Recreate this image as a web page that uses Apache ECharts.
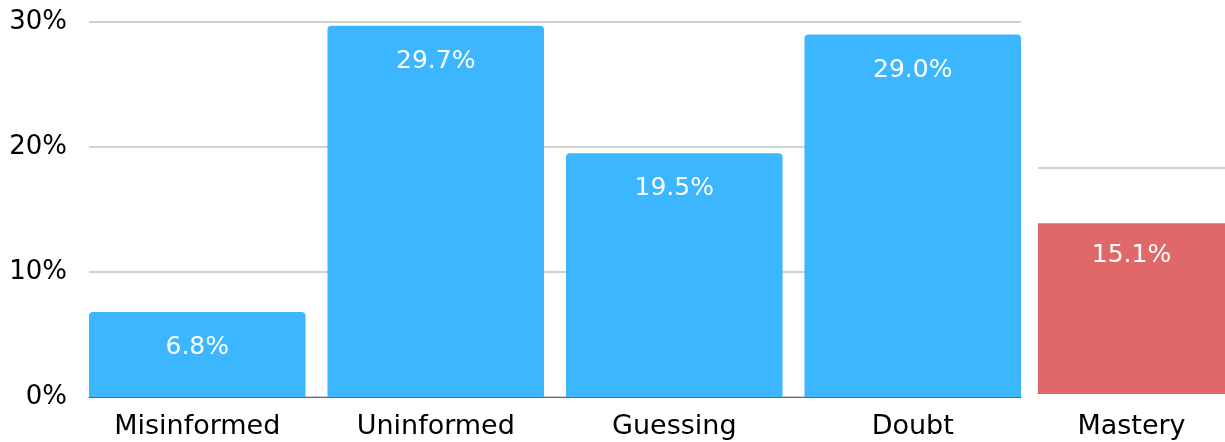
<!DOCTYPE html>
<html>
<head>
<meta charset="utf-8">
<script src="https://cdn.jsdelivr.net/npm/echarts@6/dist/echarts.min.js"></script>
<style>
  html, body { margin: 0; padding: 0; background: #fff; }
  #main { width: 1225px; height: 442px; }
</style>
</head>
<body>
<div id="main"></div>
<script>
// data
const categories = ['Misinformed', 'Uninformed', 'Guessing', 'Doubt'];
const values = [6.8, 29.7, 19.5, 29.0];
const masteryCategory = ['Mastery'];
const masteryValues = [15.1];
const yTicks = [0, 10, 20, 30];

const FONT = 'DejaVu Sans';
const pct = v => v.toFixed(1) + '%';

const chart = echarts.init(document.getElementById('main'));

chart.setOption({
  animation: false,
  textStyle: { fontFamily: FONT },
  grid: [
    // gridlines / y labels
    { left: 89, top: 22, width: 932, height: 375 },
    // bars
    { left: 78, top: 22, width: 954, height: 375 },
    // mastery panel
    { left: 1038, top: 168, width: 194, height: 225 }
  ],
  xAxis: [
    {
      gridIndex: 0, type: 'category', data: [''],
      axisLine: { show: true, lineStyle: { color: '#666', width: 1 } },
      axisTick: { show: false }, axisLabel: { show: false }
    },
    {
      gridIndex: 1, type: 'category', data: categories,
      axisLine: { show: false }, axisTick: { show: false },
      axisLabel: { color: '#000', fontSize: 27, fontFamily: FONT, margin: 16 }
    },
    {
      gridIndex: 2, type: 'category', data: masteryCategory,
      axisLine: { show: true, lineStyle: { color: '#888', width: 1 } },
      axisTick: { show: false },
      axisLabel: { color: '#000', fontSize: 27, fontFamily: FONT, margin: 20 }
    }
  ],
  yAxis: [
    {
      gridIndex: 0, type: 'value', min: yTicks[0], max: yTicks[yTicks.length - 1], interval: 10,
      axisLine: { show: false }, axisTick: { show: false },
      splitLine: { lineStyle: { color: '#c2c2c2', width: 1.5 } },
      axisLabel: { color: '#000', fontSize: 26, fontFamily: FONT, margin: 22, formatter: v => v + '%' }
    },
    {
      gridIndex: 1, type: 'value', min: 0, max: 30,
      show: false, splitLine: { show: false }
    },
    {
      gridIndex: 2, type: 'value', min: 0, max: 20, interval: 20,
      axisLine: { show: false }, axisTick: { show: false }, axisLabel: { show: false },
      splitLine: { lineStyle: { color: '#c2c2c2', width: 1.5 } }
    }
  ],
  series: [
    {
      type: 'bar', xAxisIndex: 1, yAxisIndex: 1,
      data: values,
      barCategoryGap: '9.2%',
      itemStyle: { color: '#3bb6ff', borderRadius: [4, 4, 0, 0] },
      label: {
        show: true, position: 'insideTop', distance: 23,
        color: '#fff', fontSize: 25, fontFamily: FONT,
        formatter: p => pct(p.value)
      }
    },
    {
      type: 'bar', xAxisIndex: 2, yAxisIndex: 2,
      data: masteryValues,
      barCategoryGap: 0,
      itemStyle: { color: '#e06868' },
      label: {
        show: true, position: 'insideTop', distance: 20,
        color: '#fff', fontSize: 25, fontFamily: FONT,
        formatter: p => pct(p.value)
      }
    }
  ]
});
</script>
</body>
</html>
